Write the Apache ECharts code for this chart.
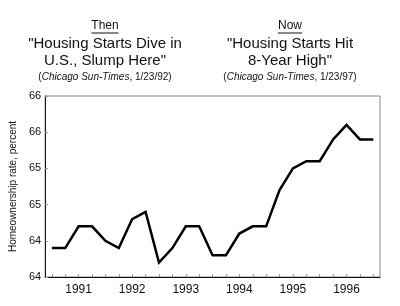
<!DOCTYPE html>
<html>
<head>
<meta charset="utf-8">
<script src="https://cdn.jsdelivr.net/npm/echarts@6/dist/echarts.min.js"></script>
<style>
    html, body { margin: 0; padding: 0; background: #fff; }
    #chart { width: 400px; height: 306px; }
</style>
</head>
<body>
<div id="chart"></div>
<script>
// quarterly, 1991 Q1 .. 1997 Q1
const quarters = [
    '1991 Q1', '1991 Q2', '1991 Q3', '1991 Q4',
    '1992 Q1', '1992 Q2', '1992 Q3', '1992 Q4',
    '1993 Q1', '1993 Q2', '1993 Q3', '1993 Q4',
    '1994 Q1', '1994 Q2', '1994 Q3', '1994 Q4',
    '1995 Q1', '1995 Q2', '1995 Q3', '1995 Q4',
    '1996 Q1', '1996 Q2', '1996 Q3', '1996 Q4',
    '1997 Q1'
];
const homeownershipRate = [
    63.9, 63.9, 64.2, 64.2,
    64.0, 63.9, 64.3, 64.4,
    63.7, 63.9, 64.2, 64.2,
    63.8, 63.8, 64.1, 64.2,
    64.2, 64.7, 65.0, 65.1,
    65.1, 65.4, 65.6, 65.4,
    65.4
];
const headlineThen = ['"Housing Starts Dive in', 'U.S., Slump Here"'];
const headlineNow = ['"Housing Starts Hit', '8-Year High"'];

const FONT = '"Liberation Sans", Arial, sans-serif';

// 标题块：Then / Now
function headlineBlock (cx, tag, lines, date) {
    const tagWidth = tag.length === 4 ? 27 : 24;
    return [
        {
            type: 'text', x: cx, y: 26,
            style: { text: tag, fontSize: 12, fontFamily: FONT, fill: '#111', align: 'center', verticalAlign: 'middle' }
        },
        {
            type: 'line',
            shape: { x1: cx - tagWidth / 2, y1: 33, x2: cx + tagWidth / 2, y2: 33 },
            style: { stroke: '#111', lineWidth: 1 }
        },
        {
            type: 'text', x: cx, y: 44,
            style: { text: lines[0], fontSize: 15, fontFamily: FONT, fill: '#111', align: 'center', verticalAlign: 'middle' }
        },
        {
            type: 'text', x: cx, y: 61,
            style: { text: lines[1], fontSize: 15, fontFamily: FONT, fill: '#111', align: 'center', verticalAlign: 'middle' }
        },
        {
            type: 'text', x: cx, y: 77,
            style: {
                text: '(' + '{i|Chicago Sun-Times}' + ', ' + date + ')',
                fontSize: 10, fontFamily: FONT, fill: '#111', align: 'center', verticalAlign: 'middle',
                rich: { i: { fontSize: 10, fontFamily: FONT, fontStyle: 'italic', fill: '#111' } }
            }
        }
    ];
}

const myChart = echarts.init(document.getElementById('chart'));

myChart.setOption({
    animation: false,
    backgroundColor: '#fff',
    textStyle: { fontFamily: FONT },
    grid: {
        left: 39, right: 20, top: 96, bottom: 29,
        show: true,
        borderColor: '#888',
        borderWidth: 1
    },
    xAxis: {
        type: 'category',
        data: quarters,
        boundaryGap: true,
        axisLine: { lineStyle: { color: '#111', width: 1 } },
        axisTick: {
            show: true, inside: true, length: 3, interval: 0, alignWithLabel: true,
            lineStyle: { color: '#999' }
        },
        axisLabel: {
            interval: (i) => i % 4 === 2,
            formatter: (v) => v.slice(0, 4),
            color: '#111', fontSize: 12, fontFamily: FONT, margin: 7
        },
        splitLine: { show: false }
    },
    yAxis: {
        type: 'value',
        min: 63.5,
        max: 66.0,
        interval: 0.5,
        name: 'Homeownership rate, percent',
        nameLocation: 'middle',
        nameGap: 24,
        nameTextStyle: { color: '#111', fontSize: 10, fontFamily: FONT },
        axisLine: { show: true, lineStyle: { color: '#111', width: 1 } },
        axisTick: { show: true, inside: true, length: 3, lineStyle: { color: '#999' } },
        axisLabel: {
            formatter: (v) => String(Math.round(v)),
            color: '#111', fontSize: 11, fontFamily: FONT, margin: 4
        },
        splitLine: { show: false }
    },
    series: [
        {
            type: 'line',
            data: homeownershipRate,
            symbol: 'none',
            lineStyle: { color: '#000', width: 2.5, join: 'miter' }
        }
    ],
    graphic: [
        ...headlineBlock(105, 'Then', headlineThen, '1/23/92'),
        ...headlineBlock(290, 'Now', headlineNow, '1/23/97')
    ]
});
</script>
</body>
</html>
